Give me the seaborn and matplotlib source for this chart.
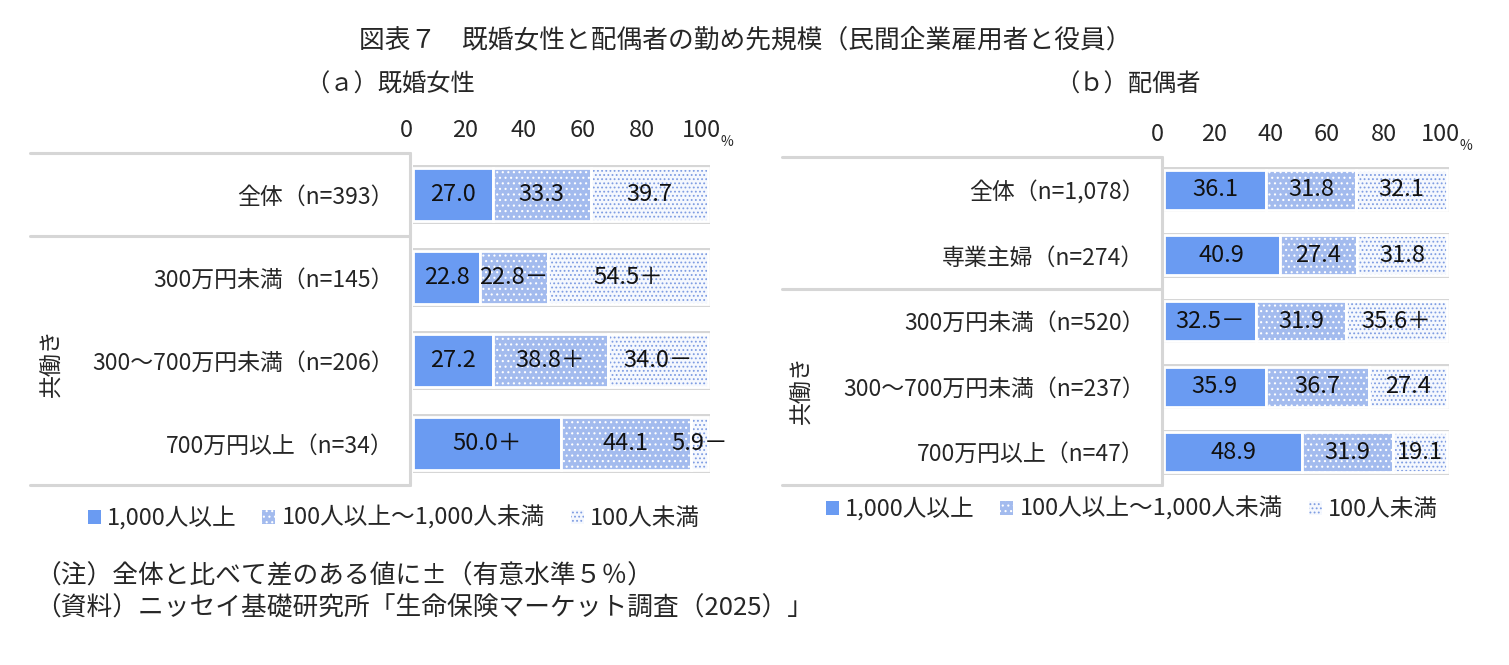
import matplotlib
matplotlib.use('Agg')
import matplotlib.pyplot as plt
from matplotlib.lines import Line2D
from matplotlib.patches import Patch
from matplotlib.transforms import ScaledTranslation
import seaborn as sns

# (a) 既婚女性
wife_groups = ['全体（n=393）', '300万円未満（n=145）',
               '300～700万円未満（n=206）', '700万円以上（n=34）']
wife_large = [27.0, 22.8, 27.2, 50.0]
wife_mid = [33.3, 22.8, 38.8, 44.1]
wife_small = [39.7, 54.5, 34.0, 5.9]
wife_large_sig = ['', '', '', '＋']
wife_mid_sig = ['', '－', '＋', '']
wife_small_sig = ['', '＋', '－', '－']

# (b) 配偶者
spouse_groups = ['全体（n=1,078）', '専業主婦（n=274）', '300万円未満（n=520）',
                 '300～700万円未満（n=237）', '700万円以上（n=47）']
spouse_large = [36.1, 40.9, 32.5, 35.9, 48.9]
spouse_mid = [31.8, 27.4, 31.9, 36.7, 31.9]
spouse_small = [32.1, 31.8, 35.6, 27.4, 19.1]
spouse_large_sig = ['', '', '－', '', '']
spouse_mid_sig = ['', '', '', '', '']
spouse_small_sig = ['', '', '＋', '', '']

size_labels = ['1,000人以上', '100人以上～1,000人未満', '100人未満']
ticks = [0, 20, 40, 60, 80, 100]

title = '図表７　既婚女性と配偶者の勤め先規模（民間企業雇用者と役員）'
notes = ['（注）全体と比べて差のある値に±（有意水準５％）',
         '（資料）ニッセイ基礎研究所「生命保険マーケット調査（2025）」']

W, H = 1509, 665
FRAME = '#d6d6d6'
styles = [
    dict(face='#6a9bf2', hatchc='#6a9bf2', hatch=None),
    dict(face='#a3bbee', hatchc='white', hatch='...'),
    dict(face='#f5f8fe', hatchc='#7f9de2', hatch='....'),
]

sns.set_style('white')
plt.rcParams['font.family'] = ['Noto Sans CJK JP', 'DejaVu Sans']
plt.rcParams['hatch.linewidth'] = 0.8


def fx(px):
    return px / W


def fy(py):
    return 1 - py / H


def draw_panel(ax, groups, segs, sigs, bar_w):
    n = len(groups)
    # grey border behind each bar
    sns.barplot(x=[100.8] * n, y=groups, orient='h', color=FRAME,
                saturation=1, errorbar=None, width=bar_w + 0.07,
                linewidth=0, ax=ax)
    left = [0.0] * n
    for vals, sig, sty in zip(segs, sigs, styles):
        sns.barplot(x=vals, y=groups, orient='h', left=left,
                    color=sty['face'], edgecolor=sty['hatchc'],
                    hatch=sty['hatch'], saturation=1, errorbar=None,
                    width=bar_w, linewidth=0, ax=ax)
        sns.barplot(x=vals, y=groups, orient='h', left=left, color='white',
                    fill=False, saturation=1, errorbar=None, width=bar_w,
                    linewidth=2, ax=ax)
        for i in range(n):
            ax.text(left[i] + vals[i] / 2, i, f'{vals[i]:.1f}{sig[i]}',
                    ha='center', va='center', fontsize=17, color='#111111')
        left = [a + b for a, b in zip(left, vals)]
    for p in ax.patches:
        p.set_clip_on(False)

    ax.set_xlim(0, 100)
    ax.set_ylim(n - 0.5, -0.5)
    ax.xaxis.tick_top()
    ax.set_xticks(ticks)
    ax.set_xticklabels([str(t) for t in ticks])
    ax.tick_params(axis='x', length=0, pad=8, labelsize=17)
    ax.tick_params(axis='y', length=0, pad=14, labelsize=16.5)
    shift = ScaledTranslation(-5 / 72, 0, fig.dpi_scale_trans)
    for lab in ax.get_xticklabels():
        lab.set_transform(lab.get_transform() + shift)
    ax.set_xlabel('')
    ax.set_ylabel('')
    for s in ax.spines.values():
        s.set_visible(False)
    pct = ax.transAxes + ScaledTranslation(9 / 72, 3 / 72, fig.dpi_scale_trans)
    ax.text(1.0, 1.0, '%', transform=pct, fontsize=10, ha='left', va='bottom')


def hline(x0, x1, y):
    fig.add_artist(Line2D([fx(x0), fx(x1)], [fy(y), fy(y)], color=FRAME, lw=2.2))


def vline(x, y0, y1):
    fig.add_artist(Line2D([fx(x), fx(x)], [fy(y0), fy(y1)], color=FRAME, lw=2.2))


fig = plt.figure(figsize=(W / 100, H / 100), dpi=100)

ax1 = fig.add_axes([fx(413), fy(485), (708 - 413) / W, (485 - 153) / H])
ax2 = fig.add_axes([fx(1164), fy(485), (1447 - 1164) / W, (485 - 157) / H])

draw_panel(ax1, wife_groups, [wife_large, wife_mid, wife_small],
           [wife_large_sig, wife_mid_sig, wife_small_sig], 0.63)
draw_panel(ax2, spouse_groups, [spouse_large, spouse_mid, spouse_small],
           [spouse_large_sig, spouse_mid_sig, spouse_small_sig], 0.61)

# label boxes
for y in (153, 236, 485):
    hline(30, 410, y)
vline(410, 153, 485)
for y in (157, 289, 485):
    hline(782, 1162, y)
vline(1162, 157, 485)

fig.text(fx(52), fy(363), '共働き', rotation=90, ha='center', va='center', fontsize=16.5)
fig.text(fx(802), fy(390), '共働き', rotation=90, ha='center', va='center', fontsize=16.5)

fig.text(fx(745), fy(40), title, ha='center', va='center', fontsize=18.5)
fig.text(fx(390), fy(85), '（ａ）既婚女性', ha='center', va='center', fontsize=17.5)
fig.text(fx(1128), fy(85), '（ｂ）配偶者', ha='center', va='center', fontsize=17.5)
fig.text(fx(35), fy(576), notes[0], ha='left', va='center', fontsize=18.5)
fig.text(fx(35), fy(609), notes[1], ha='left', va='center', fontsize=18.5)

handles = [Patch(facecolor=s['face'], edgecolor=s['hatchc'], hatch=s['hatch'],
                 linewidth=0) for s in styles]
leg_kw = dict(ncol=3, frameon=False, handlelength=0.55, handleheight=0.55,
              handletextpad=0.25, columnspacing=1.1, prop={'size': 17},
              borderpad=0, borderaxespad=0, loc='center left')
fig.legend(handles, size_labels, bbox_to_anchor=(fx(88), fy(518)), **leg_kw)
fig.legend(handles, size_labels, bbox_to_anchor=(fx(826), fy(509)), **leg_kw)

fig.savefig('out.png', dpi=100)
